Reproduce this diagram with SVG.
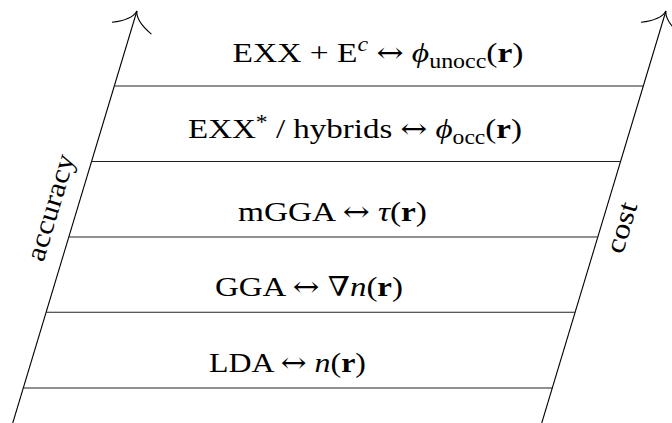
<svg xmlns="http://www.w3.org/2000/svg" width="672" height="423" viewBox="0 0 672 423">
<style>
.lbl{font-family:"Liberation Serif","DejaVu Serif",serif;font-size:28px;font-style:normal;fill:#000}
.it{font-style:italic}
.bf{font-weight:bold}
.sm{font-size:20px}
.ar{font-family:"DejaVu Serif",serif;font-size:27px}
.axis{stroke:#000;stroke-width:1.1;fill:none}
.rung{stroke:#222;stroke-width:1.1;fill:none}
</style>
<defs>
<marker id="to" markerUnits="userSpaceOnUse" orient="auto" refX="0" refY="0" markerWidth="40" markerHeight="50" viewBox="-25 -25 30 50" overflow="visible">
<path d="M-18,-20.6 Q-10,-2 0,0 Q-10,2 -18,20.6" fill="none" stroke="#000" stroke-width="1.1"/>
</marker>
</defs>
<g id="connectors">
<line class="axis" x1="12.75" y1="423" x2="136.9" y2="11" marker-end="url(#to)"/>
<line class="axis" x1="541.75" y1="423" x2="665.9" y2="11" marker-end="url(#to)"/>
<line class="rung" x1="114.3" y1="86" x2="643.3" y2="86"/>
<line class="rung" x1="91.5" y1="161.5" x2="620.5" y2="161.5"/>
<line class="rung" x1="68.8" y1="237" x2="597.8" y2="237"/>
<line class="rung" x1="46.1" y1="312.3" x2="575.1" y2="312.3"/>
<line class="rung" x1="23.3" y1="388" x2="552.3" y2="388"/>
</g>
<g id="level-exx-ec">
<text class="lbl" x="378" y="62" text-anchor="middle" textLength="291" lengthAdjust="spacingAndGlyphs">EXX + E<tspan class="sm it" dy="-11">c</tspan><tspan dy="11"> </tspan><tspan class="ar">↔</tspan> <tspan class="it">ϕ</tspan><tspan class="sm" dy="6">unocc</tspan><tspan dy="-6">(</tspan><tspan class="bf">r</tspan>)</text>
</g>
<g id="level-exx-hybrids">
<text class="lbl" x="355" y="137.5" text-anchor="middle" textLength="334" lengthAdjust="spacingAndGlyphs">EXX<tspan class="sm" dy="-9">*</tspan><tspan dy="9"> / hybrids </tspan><tspan class="ar">↔</tspan> <tspan class="it">ϕ</tspan><tspan class="sm" dy="6">occ</tspan><tspan dy="-6">(</tspan><tspan class="bf">r</tspan>)</text>
</g>
<g id="level-mgga">
<text class="lbl" x="332.5" y="221" text-anchor="middle" textLength="189" lengthAdjust="spacingAndGlyphs">mGGA <tspan class="ar">↔</tspan> <tspan class="it">τ</tspan>(<tspan class="bf">r</tspan>)</text>
</g>
<g id="level-gga">
<text class="lbl" x="309" y="296" text-anchor="middle" textLength="188" lengthAdjust="spacingAndGlyphs">GGA <tspan class="ar">↔</tspan> <tspan class="ar">∇</tspan><tspan class="it">n</tspan>(<tspan class="bf">r</tspan>)</text>
</g>
<g id="level-lda">
<text class="lbl" x="287.5" y="372" text-anchor="middle" textLength="157" lengthAdjust="spacingAndGlyphs">LDA <tspan class="ar">↔</tspan> <tspan class="it">n</tspan>(<tspan class="bf">r</tspan>)</text>
</g>
<g id="label-accuracy">
<text class="lbl" x="59" y="210" text-anchor="middle" textLength="110" lengthAdjust="spacingAndGlyphs" transform="rotate(-73.3 59 210)">accuracy</text>
</g>
<g id="label-cost">
<text class="lbl" x="630" y="230" text-anchor="middle" textLength="52" lengthAdjust="spacingAndGlyphs" transform="rotate(-73.3 630 230)">cost</text>
</g>
</svg>
